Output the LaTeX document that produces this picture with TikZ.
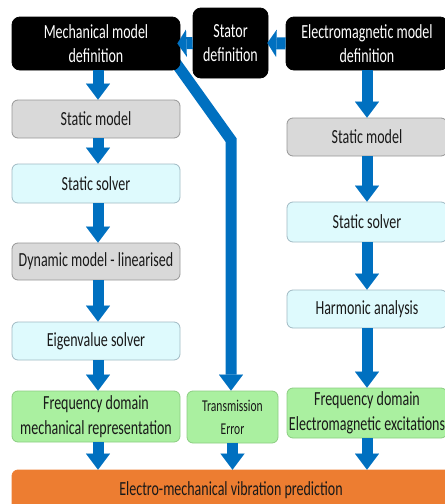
\documentclass[tikz,border=0pt]{standalone}
\usepackage{fontspec}
\setmainfont{Carlito}[FakeStretch=0.70]
\usetikzlibrary{arrows.meta,backgrounds,calc}
\definecolor{arrowblue}{RGB}{0,112,192}
\definecolor{greyfill}{RGB}{217,217,217}
\definecolor{greyline}{RGB}{150,150,150}
\definecolor{cyanfill}{RGB}{222,250,253}
\definecolor{cyanline}{RGB}{160,185,195}
\definecolor{greenfill}{RGB}{170,240,160}
\definecolor{greenline}{RGB}{140,205,130}
\definecolor{orangefill}{RGB}{237,125,49}
\definecolor{textdark}{RGB}{25,25,25}
\tikzset{
  box/.style={rounded corners=6pt, align=center, inner sep=0pt, line width=0.8pt,
    font=\fontsize{20}{24.5}\selectfont, text=textdark},
  blackbox/.style={box, fill=black, draw=black, rounded corners=8pt, text=white},
  greybox/.style={box, fill=greyfill, draw=greyline},
  cyanbox/.style={box, fill=cyanfill, draw=cyanline},
  greenbox/.style={box, fill=greenfill, draw=greenline},
  orangebox/.style={box, fill=orangefill, draw=orangefill},
  flowarrow/.style={draw=arrowblue, line width=11pt,
    -{Triangle[width=24pt,length=16pt,line width=0.01pt]}},
  sidearrow/.style={draw=arrowblue, line width=12pt,
    -{Triangle[width=27pt,length=9pt,line width=0.01pt]}},
}
\begin{document}
\begin{tikzpicture}[x=1pt,y=-1pt]
\useasboundingbox (0,0) rectangle (445,504);
\clip (0,0) rectangle (445,504);
% top row
\node[blackbox, minimum width=168pt, minimum height=53pt] (mech) at (96,43.5) {Mechanical model\\definition};
\node[blackbox, minimum width=75pt, minimum height=70pt] (stator) at (230.5,43) {Stator\\definition};
\node[blackbox, minimum width=162pt, minimum height=53pt] (em) at (367,43.5) {Electromagnetic model\\definition};
% left column
\node[greybox, minimum width=168pt, minimum height=38pt] (l1) at (96,119) {Static model};
\node[cyanbox, minimum width=168pt, minimum height=39pt] (l2) at (96,183.5) {Static solver};
\node[greybox, minimum width=168pt, minimum height=37pt] (l3) at (96,261.5) {Dynamic model - linearised};
\node[cyanbox, minimum width=168pt, minimum height=38pt] (l4) at (96,341) {Eigenvalue solver};
\node[greenbox, minimum width=168pt, minimum height=51pt] (l5) at (96,416.5) {Frequency domain\\mechanical representation};
% middle
\node[greenbox, minimum width=91pt, minimum height=52pt, font=\fontsize{16.5}{23}\selectfont] (te) at (232.5,417) {Transmission\\Error};
% right column
\node[greybox, minimum width=160pt, minimum height=38pt] (r1) at (367,137) {Static model};
\node[cyanbox, minimum width=160pt, minimum height=40pt] (r2) at (367,222) {Static solver};
\node[cyanbox, minimum width=160pt, minimum height=38pt] (r3) at (367,309) {Harmonic analysis};
\node[greenbox, minimum width=160pt, minimum height=50pt] (r4) at (367,413) {Frequency domain\\Electromagnetic excitations};
% bottom
\node[orangebox, minimum width=438pt, minimum height=40pt] (vib) at (231,490) {Electro-mechanical vibration prediction};
% transmission error path (behind boxes)
\begin{pgfonlayer}{background}
\coordinate (tstart) at (168,52);
\coordinate (tbend) at (231,140);
\draw[flowarrow, line join=miter] (tstart) -- (tbend) -- (tbend |- te.north);
\end{pgfonlayer}
% side arrows
\draw[sidearrow] (stator.west) -- ($(mech.east)+(-3,0)$);
\draw[sidearrow] (em.west) -- ($(stator.east)+(-1,0)$);
% left flow (shifted 2pt right of the box centres)
\coordinate (ma) at ($(mech.south)+(2,0)$);
\coordinate (l1n) at ($(l1.north)+(2,0)$);
\coordinate (l1s) at ($(l1.south)+(2,0)$);
\coordinate (l2n) at ($(l2.north)+(2,0)$);
\coordinate (l2s) at ($(l2.south)+(2,0)$);
\coordinate (l3n) at ($(l3.north)+(2,0)$);
\coordinate (l3s) at ($(l3.south)+(2,0)$);
\coordinate (l4n) at ($(l4.north)+(2,0)$);
\coordinate (l4s) at ($(l4.south)+(2,0)$);
\coordinate (l5n) at ($(l5.north)+(2,0)$);
\coordinate (l5s) at ($(l5.south)+(2,0)$);
\draw[flowarrow] (ma) -- (l1n);
\draw[flowarrow] (l1s) -- (l2n);
\draw[flowarrow] (l2s) -- (l3n);
\draw[flowarrow] (l3s) -- (l4n);
\draw[flowarrow] (l4s) -- (l5n);
\draw[flowarrow] (l5s) -- (l5s |- vib.north);
% right flow
\draw[flowarrow] (em.south) -- (em.south |- r1.north);
\draw[flowarrow] (r1.south) -- (r2.north);
\draw[flowarrow] (r2.south) -- (r3.north);
\draw[flowarrow] (r3.south) -- (r4.north);
\draw[flowarrow] (r4.south) -- (r4.south |- vib.north);
% middle
\draw[flowarrow] (te.south) -- (te.south |- vib.north);
\end{tikzpicture}
\end{document}
